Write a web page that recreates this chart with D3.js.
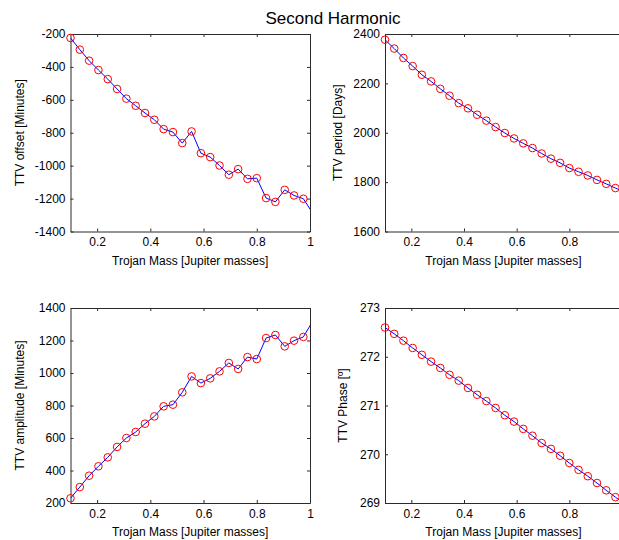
<!DOCTYPE html>
<html>
<head>
<meta charset="utf-8">
<script src="https://cdn.jsdelivr.net/npm/d3@7"></script>
<style>
  body { margin: 0; background: #fff; }
  svg { display: block; font-family: "Liberation Sans", Arial, sans-serif; }
</style>
</head>
<body>
<svg id="chart" width="619" height="540"></svg>
<script>
// Trojan mass samples [Jupiter masses]; the last one lies just outside the x limits
const mass = [0.100, 0.135, 0.170, 0.205, 0.240, 0.275, 0.310, 0.345, 0.380, 0.415,
              0.450, 0.485, 0.520, 0.555, 0.590, 0.625, 0.660, 0.695, 0.730, 0.765,
              0.800, 0.835, 0.870, 0.905, 0.940, 0.975, 1.010];

const ttvOffset = [-224, -295, -362, -419, -474, -534, -593, -636, -680, -721,
                   -778, -796, -863, -792, -924, -948, -999, -1055, -1021, -1080,
                   -1076, -1197, -1220, -1147, -1181, -1201, -1288];

const ttvPeriod = [2377, 2341, 2303, 2270, 2235, 2208, 2178, 2150, 2120, 2099,
                   2073, 2049, 2023, 1999, 1977, 1957, 1938, 1916, 1895, 1878,
                   1857, 1842, 1827, 1809, 1793, 1776, 1760];

const ttvAmplitude = [229, 298, 368, 426, 481, 545, 600, 637, 688, 733,
                      795, 805, 881, 979, 938, 967, 1010, 1062, 1025, 1098,
                      1086, 1215, 1234, 1164, 1199, 1222, 1318];

const ttvPhase = [272.60, 272.47, 272.33, 272.18, 272.04, 271.90, 271.77, 271.63, 271.51, 271.36,
                  271.22, 271.09, 270.95, 270.80, 270.67, 270.52, 270.38, 270.23, 270.11, 269.97,
                  269.82, 269.68, 269.55, 269.41, 269.26, 269.12, 268.98];

const xTicksFull = [0.2, 0.4, 0.6, 0.8, 1];
const xTicksCut = [0.2, 0.4, 0.6, 0.8];
const xLabel = 'Trojan Mass [Jupiter masses]';

const svg = d3.select('#chart');
const axisColor = '#2b2b2b';
const tickLen = 3;
const plain = d => String(d);  // keep the ascii hyphen like the original

svg.append('text')
    .attr('x', 333)
    .attr('y', 24)
    .attr('text-anchor', 'middle')
    .style('font-size', '17px')
    .attr('fill', '#000')
    .text('Second Harmonic');

function drawPanel(id, box, yDomain, yTicks, xTicks, values, yLabel, yLabelX) {
    const x = d3.scaleLinear().domain([0.1, 1]).range([box.left, box.right]);
    const y = d3.scaleLinear().domain(yDomain).range([box.bottom, box.top]);

    const g = svg.append('g');

    g.append('clipPath').attr('id', 'clip-' + id)
        .append('rect')
        .attr('x', box.left).attr('y', box.top)
        .attr('width', box.right - box.left).attr('height', box.bottom - box.top);

    const styleAxis = sel => {
        sel.select('.domain').attr('stroke', axisColor);
        sel.selectAll('.tick line').attr('stroke', axisColor);
        sel.selectAll('.tick text').attr('fill', '#000').style('font-size', '12px');
        sel.attr('font-family', null).attr('font-size', null);
    };

    g.append('g').attr('transform', `translate(0,${box.bottom})`)
        .call(d3.axisBottom(x).tickValues(xTicks).tickFormat(plain).tickSizeInner(-tickLen).tickSizeOuter(0).tickPadding(6))
        .call(styleAxis);
    g.append('g').attr('transform', `translate(0,${box.top})`)
        .call(d3.axisTop(x).tickValues(xTicks).tickFormat('').tickSizeInner(-tickLen).tickSizeOuter(0))
        .call(styleAxis);
    g.append('g').attr('transform', `translate(${box.left},0)`)
        .call(d3.axisLeft(y).tickValues(yTicks).tickFormat(plain).tickSizeInner(-tickLen).tickSizeOuter(0).tickPadding(5))
        .call(styleAxis);
    g.append('g').attr('transform', `translate(${box.right},0)`)
        .call(d3.axisRight(y).tickValues(yTicks).tickFormat('').tickSizeInner(-tickLen).tickSizeOuter(0))
        .call(styleAxis);

    const pts = mass.map((m, i) => [m, values[i]]);

    g.append('path')
        .datum(pts)
        .attr('clip-path', `url(#clip-${id})`)
        .attr('fill', 'none')
        .attr('stroke', '#0000ff')
        .attr('stroke-width', 1)
        .attr('d', d3.line().x(d => x(d[0])).y(d => y(d[1])));

    g.selectAll('circle')
        .data(pts.filter(d => d[0] <= 1 && d[1] >= yDomain[0] && d[1] <= yDomain[1]))
        .enter().append('circle')
        .attr('cx', d => x(d[0]))
        .attr('cy', d => y(d[1]))
        .attr('r', 3.8)
        .attr('fill', 'none')
        .attr('stroke', '#ff0000')
        .attr('stroke-width', 1);

    g.append('text')
        .attr('x', (box.left + box.right) / 2)
        .attr('y', box.bottom + 33)
        .attr('text-anchor', 'middle')
        .style('font-size', '12px')
        .text(xLabel);

    g.append('text')
        .attr('transform', `translate(${yLabelX},${(box.top + box.bottom) / 2}) rotate(-90)`)
        .attr('text-anchor', 'middle')
        .style('font-size', '12px')
        .text(yLabel);
}

const top1 = 34, bottom1 = 231.5, top2 = 308, bottom2 = 503;
const leftA = 70.5, rightA = 310, leftB = 385, rightB = 622;

drawPanel('offset', {left: leftA, right: rightA, top: top1, bottom: bottom1},
    [-1400, -200], d3.range(-1400, -199, 200), xTicksFull, ttvOffset, 'TTV offset [Minutes]', 24);
drawPanel('period', {left: leftB, right: rightB, top: top1, bottom: bottom1},
    [1600, 2400], d3.range(1600, 2401, 200), xTicksCut, ttvPeriod, 'TTV period [Days]', 342);
drawPanel('amp', {left: leftA, right: rightA, top: top2, bottom: bottom2},
    [200, 1400], d3.range(200, 1401, 200), xTicksFull, ttvAmplitude, 'TTV amplitude [Minutes]', 24);
drawPanel('phase', {left: leftB, right: rightB, top: top2, bottom: bottom2},
    [269, 273], d3.range(269, 273.5, 1), xTicksCut, ttvPhase, 'TTV Phase [º]', 347);
</script>
</body>
</html>
